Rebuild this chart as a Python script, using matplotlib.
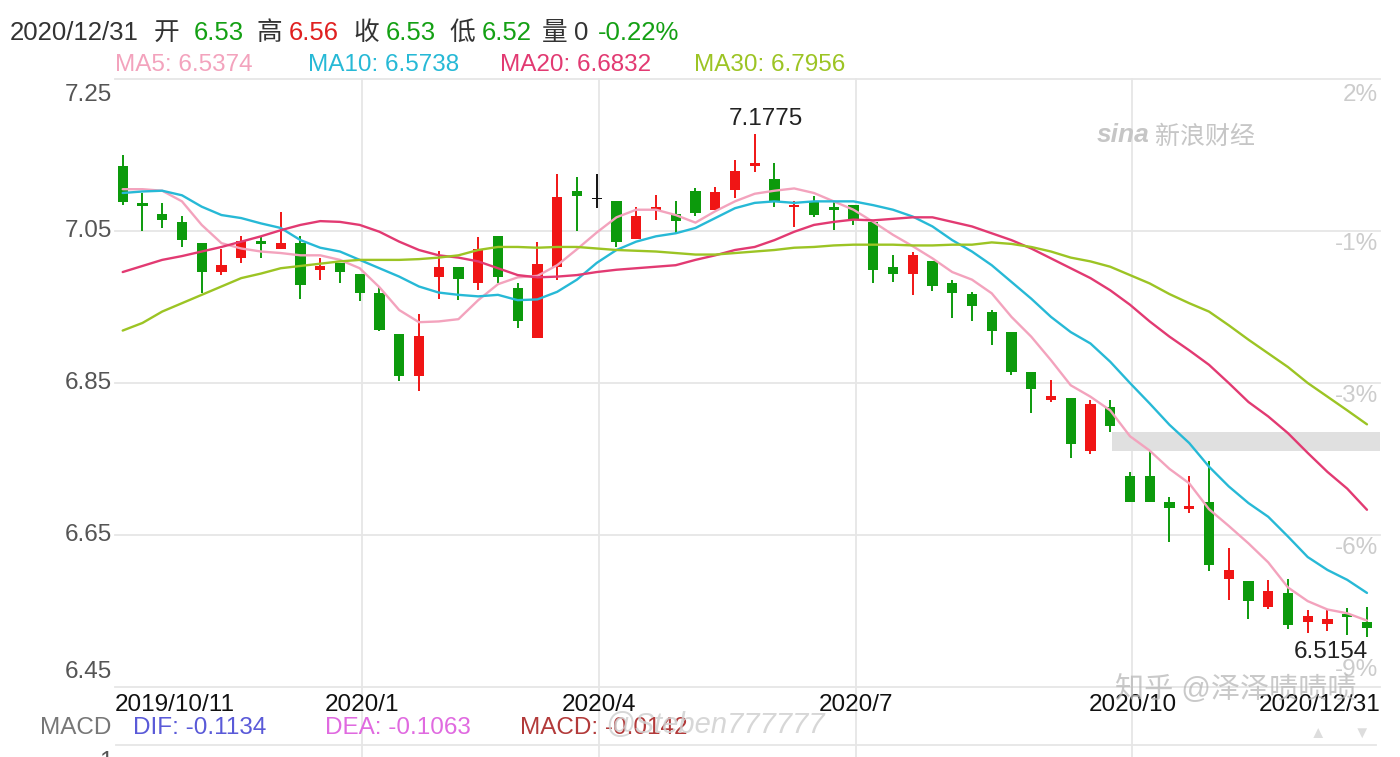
import numpy as np
import matplotlib.pyplot as plt

plt.rcParams['font.family'] = ['Liberation Sans', 'Noto Sans CJK SC', 'DejaVu Sans']

#####################################################################
# data: weekly candles 2019/10/11 .. 2020/12/31
#####################################################################
opens = [7.135, 7.087, 7.072, 7.062, 7.034, 6.996, 7.015, 7.037, 7.026, 7.034,
         6.999, 7.008, 6.994, 6.969, 6.914, 6.859, 6.990, 7.003, 6.982, 7.043,
         6.975, 6.909, 7.003, 7.102, 7.092, 7.090, 7.040, 7.078, 7.072, 7.102,
         7.078, 7.104, 7.135, 7.118, 7.082, 7.089, 7.081, 7.084, 7.062, 7.003,
         6.993, 7.011, 6.981, 6.967, 6.943, 6.917, 6.864, 6.828, 6.830, 6.761,
         6.819, 6.727, 6.727, 6.694, 6.684, 6.694, 6.592, 6.589, 6.555, 6.574,
         6.536, 6.533, 6.546, 6.535]
highs = [7.150, 7.100, 7.087, 7.070, 7.034, 7.026, 7.043, 7.043, 7.075, 7.043,
         7.014, 7.008, 6.994, 6.976, 6.914, 6.941, 7.024, 7.003, 7.042, 7.043,
         6.981, 7.035, 7.125, 7.121, 7.125, 7.090, 7.081, 7.097, 7.089, 7.106,
         7.108, 7.143, 7.1775, 7.139, 7.090, 7.096, 7.089, 7.084, 7.062, 7.018,
         7.022, 7.011, 6.986, 6.970, 6.946, 6.917, 6.864, 6.854, 6.830, 6.828,
         6.827, 6.733, 6.760, 6.700, 6.728, 6.748, 6.633, 6.589, 6.591, 6.592,
         6.551, 6.552, 6.554, 6.555]
lows = [7.084, 7.050, 7.054, 7.029, 6.968, 6.992, 7.008, 7.015, 7.026, 6.961,
        6.986, 6.982, 6.958, 6.918, 6.853, 6.840, 6.960, 6.959, 6.972, 6.982,
        6.922, 6.909, 6.986, 7.050, 7.080, 7.029, 7.040, 7.065, 7.048, 7.070,
        7.078, 7.093, 7.127, 7.081, 7.055, 7.069, 7.051, 7.058, 6.982, 6.983,
        6.966, 6.971, 6.936, 6.931, 6.900, 6.861, 6.811, 6.825, 6.751, 6.757,
        6.786, 6.693, 6.694, 6.641, 6.679, 6.603, 6.564, 6.539, 6.552, 6.526,
        6.521, 6.524, 6.518, 6.5154]
closes = [7.088, 7.083, 7.065, 7.038, 6.996, 7.005, 7.037, 7.033, 7.034, 6.979,
          7.004, 6.996, 6.968, 6.920, 6.859, 6.912, 7.003, 6.987, 7.026, 6.990,
          6.932, 7.007, 7.095, 7.096, 7.092, 7.035, 7.070, 7.082, 7.063, 7.074,
          7.101, 7.129, 7.139, 7.088, 7.084, 7.071, 7.077, 7.065, 6.999, 6.993,
          7.018, 6.977, 6.968, 6.951, 6.918, 6.864, 6.842, 6.833, 6.770, 6.822,
          6.793, 6.694, 6.694, 6.686, 6.688, 6.611, 6.604, 6.563, 6.576, 6.532,
          6.543, 6.540, 6.542, 6.527]

ma5 = [7.105, 7.105, 7.103, 7.089, 7.058, 7.034, 7.027, 7.023, 7.021, 7.018,
       7.018, 7.012, 7.001, 6.976, 6.946, 6.930, 6.931, 6.934, 6.959, 6.980,
       6.989, 6.991, 7.005, 7.026, 7.048, 7.068, 7.078, 7.078, 7.071, 7.061,
       7.076, 7.089, 7.099, 7.103, 7.106, 7.100, 7.089, 7.078, 7.062, 7.045,
       7.030, 7.014, 6.996, 6.986, 6.968, 6.937, 6.911, 6.880, 6.847, 6.832,
       6.814, 6.780, 6.761, 6.737, 6.718, 6.684, 6.662, 6.639, 6.614, 6.581,
       6.563, 6.552, 6.547, 6.5374]
ma10 = [7.100, 7.102, 7.103, 7.097, 7.082, 7.071, 7.067, 7.060, 7.054, 7.038,
        7.028, 7.023, 7.012, 7.001, 6.990, 6.977, 6.969, 6.966, 6.964, 6.966,
        6.959, 6.960, 6.970, 6.986, 7.008, 7.025, 7.036, 7.043, 7.047, 7.054,
        7.067, 7.080, 7.087, 7.089, 7.087, 7.089, 7.089, 7.089, 7.084, 7.078,
        7.069, 7.056, 7.038, 7.023, 7.005, 6.983, 6.961, 6.937, 6.917, 6.902,
        6.878, 6.850, 6.823, 6.795, 6.771, 6.740, 6.714, 6.692, 6.674, 6.648,
        6.621, 6.604, 6.591, 6.5738]
ma20 = [6.996, 7.004, 7.012, 7.017, 7.023, 7.029, 7.036, 7.043, 7.051, 7.058,
        7.063, 7.062, 7.058, 7.049, 7.036, 7.025, 7.018, 7.015, 7.010, 7.001,
        6.992, 6.989, 6.990, 6.992, 6.996, 6.999, 7.001, 7.003, 7.005, 7.012,
        7.018, 7.025, 7.029, 7.038, 7.049, 7.058, 7.062, 7.065, 7.064, 7.066,
        7.068, 7.068, 7.062, 7.056, 7.047, 7.038, 7.027, 7.014, 7.001, 6.988,
        6.972, 6.953, 6.931, 6.911, 6.893, 6.874, 6.850, 6.825, 6.806, 6.784,
        6.758, 6.733, 6.711, 6.6832]
ma30 = [6.919, 6.929, 6.944, 6.955, 6.966, 6.977, 6.988, 6.994, 7.001, 7.004,
        7.007, 7.010, 7.012, 7.012, 7.012, 7.013, 7.015, 7.018, 7.025, 7.029,
        7.029, 7.028, 7.029, 7.029, 7.027, 7.025, 7.024, 7.023, 7.021, 7.019,
        7.019, 7.021, 7.023, 7.025, 7.028, 7.029, 7.031, 7.032, 7.032, 7.032,
        7.031, 7.031, 7.032, 7.032, 7.035, 7.033, 7.029, 7.023, 7.015, 7.010,
        7.003, 6.992, 6.981, 6.967, 6.955, 6.944, 6.926, 6.907, 6.889, 6.871,
        6.850, 6.832, 6.814, 6.7956]

tick_weeks = [12, 24, 37, 51]
tick_labels = ['2020/1', '2020/4', '2020/7', '2020/10']
first_label = '2019/10/11'
last_label = '2020/12/31'
price_ticks = [7.25, 7.05, 6.85, 6.65, 6.45]
pct_labels = ['2%', '-1%', '-3%', '-6%', '-9%']

header = [('2020/12/31', '#333333'), ('开', '#333333'), ('6.53', '#14a014'),
          ('高', '#333333'), ('6.56', '#e02020'), ('收', '#333333'),
          ('6.53', '#14a014'), ('低', '#333333'), ('6.52', '#14a014'),
          ('量', '#333333'), ('0', '#333333'), ('-0.22%', '#14a014')]
header_x = [10, 154, 194, 257, 289, 353, 386, 449, 482, 542, 574, 598]
ma_names = ['MA5: 6.5374', 'MA10: 6.5738', 'MA20: 6.6832', 'MA30: 6.7956']
ma_colors = ['#f3a3bd', '#27b9d6', '#e23a72', '#9cc424']
ma_x = [115, 308, 500, 694]
macd_names = ['DIF: -0.1134', 'DEA: -0.1063', 'MACD: -0.0142']
macd_colors = ['#5a5ad8', '#e06ae0', '#b23a3a']
macd_x = [133, 325, 520]

#####################################################################
# plotting
#####################################################################
W, H = 1400, 757
fig = plt.figure(figsize=(W / 100, H / 100), dpi=100)
ax = fig.add_axes([115 / W, (H - 687) / H, 1265 / W, 608 / H])

x = np.arange(len(opens))
o = np.array(opens); c = np.array(closes)
colors = np.where(c > o, '#f01515', np.where(c < o, '#0c9a0c', '#111111'))

ax.vlines(x, lows, highs, colors=colors, linewidth=1.4, zorder=2)
bottoms = np.minimum(o, c)
heights = np.maximum(np.abs(c - o), 0.0018)
ax.bar(x, heights, bottom=bottoms, width=0.52, color=colors, edgecolor='none', zorder=2)

for vals, col in zip([ma5, ma10, ma20, ma30], ma_colors):
    ax.plot(x, vals, color=col, linewidth=1.7, zorder=3, solid_capstyle='round')

ax.set_xlim(-0.39, 63.66)
ax.set_ylim(6.45, 7.25)
for s in ax.spines.values():
    s.set_visible(False)
ax.set_xticks([]); ax.set_yticks([])

grid_c = '#e6e6e6'
for p in price_ticks:
    ax.axhline(p, color=grid_c, linewidth=1.3, zorder=0, clip_on=False)
for w in tick_weeks:
    ax.axvline(w + 0.12, ymin=-0.116, ymax=1, color=grid_c, linewidth=1.3, zorder=0, clip_on=False)

# grey band on the right
ax.axhspan(6.7605, 6.7855, xmin=0.788, xmax=1, color='#e0e0e0', zorder=1, linewidth=0)

fs = 17.5
# left price labels / right percent labels
for i, (p, lab) in enumerate(zip(price_ticks, pct_labels)):
    if i == 0:
        va, dy = 'top', -5
    elif i == len(price_ticks) - 1:
        va, dy = 'bottom', 4
    else:
        va, dy = 'center', 0
    ax.annotate(f'{p:.2f}', xy=(0, p), xycoords=('axes fraction', 'data'),
                xytext=(-3, dy), textcoords='offset pixels', ha='right', va=va,
                fontsize=fs, color='#555555', annotation_clip=False)
    if i == 0:
        va2, dy2 = 'top', -5
    elif i == len(price_ticks) - 1:
        va2, dy2 = 'bottom', 6
    else:
        va2, dy2 = 'top', -2
    ax.annotate(lab, xy=(1, p), xycoords=('axes fraction', 'data'),
                xytext=(-2, dy2), textcoords='offset pixels', ha='right', va=va2,
                fontsize=fs, color='#cccccc', annotation_clip=False)

# x labels
ax.annotate(first_label, xy=(0, 0), xycoords='axes fraction', xytext=(0, -18),
            textcoords='offset pixels', ha='left', va='center', fontsize=fs,
            color='#111111', annotation_clip=False)
for w, lab in zip(tick_weeks, tick_labels):
    ax.annotate(lab, xy=(w + 0.12, 0), xycoords=('data', 'axes fraction'), xytext=(0, -18),
                textcoords='offset pixels', ha='center', va='center', fontsize=fs,
                color='#111111', annotation_clip=False)
ax.annotate(last_label, xy=(1, 0), xycoords='axes fraction', xytext=(0, -18),
            textcoords='offset pixels', ha='right', va='center', fontsize=fs,
            color='#111111', annotation_clip=False)

# max / min labels
imax = int(np.argmax(highs)); imin = int(np.argmin(lows))
ax.annotate(f'{highs[imax]:.4f}', xy=(imax, highs[imax]), xytext=(11, 15),
            textcoords='offset pixels', ha='center', va='center', fontsize=fs, color='#222222')
ax.annotate(f'{lows[imin]:.4f}', xy=(imin, lows[imin]), xytext=(1, -15),
            textcoords='offset pixels', ha='right', va='center', fontsize=fs, color='#222222')

# header rows
for (t, col), hx in zip(header, header_x):
    fig.text(hx / W, 1 - 33 / H, t, color=col, fontsize=18.5, ha='left', va='center')
for t, col, mx in zip(ma_names, ma_colors, ma_x):
    fig.text(mx / W, 1 - 65 / H, t, color=col, fontsize=fs, ha='left', va='center')

# MACD row
fig.text(40 / W, 1 - 728 / H, 'MACD', color='#777777', fontsize=fs, ha='left', va='center')
for t, col, mx in zip(macd_names, macd_colors, macd_x):
    fig.text(mx / W, 1 - 728 / H, t, color=col, fontsize=fs, ha='left', va='center')
fig.add_artist(plt.Line2D([116 / W, 1376 / W], [1 - 745 / H, 1 - 745 / H],
                          color='#e6e6e6', linewidth=1.3))
fig.text(113 / W, 1 - 762 / H, '1', color='#555555', fontsize=fs, ha='right', va='center')
fig.text(1318 / W, 1 - 733 / H, '▲', color='#dddddd', fontsize=12, ha='center', va='center')
fig.text(1362 / W, 1 - 733 / H, '▼', color='#dddddd', fontsize=12, ha='center', va='center')

# watermarks / logo
fig.text(1097 / W, 1 - 135 / H, 'sina', color='#c6c6c6', fontsize=19, fontweight='bold',
         style='italic', ha='left', va='center')
fig.text(1155 / W, 1 - 137 / H, '新浪财经', color='#c6c6c6', fontsize=18, style='italic',
         ha='left', va='center')
fig.text(1115 / W, 1 - 690 / H, '知乎 @泽泽啧啧啧', color='#b8b8b8', fontsize=21,
         ha='left', va='center', alpha=0.75)
fig.text(605 / W, 1 - 725 / H, '@Steben777777', color='#d0d0d0', fontsize=21,
         style='italic', ha='left', va='center', alpha=0.85)

plt.savefig('out.png', dpi=100)
